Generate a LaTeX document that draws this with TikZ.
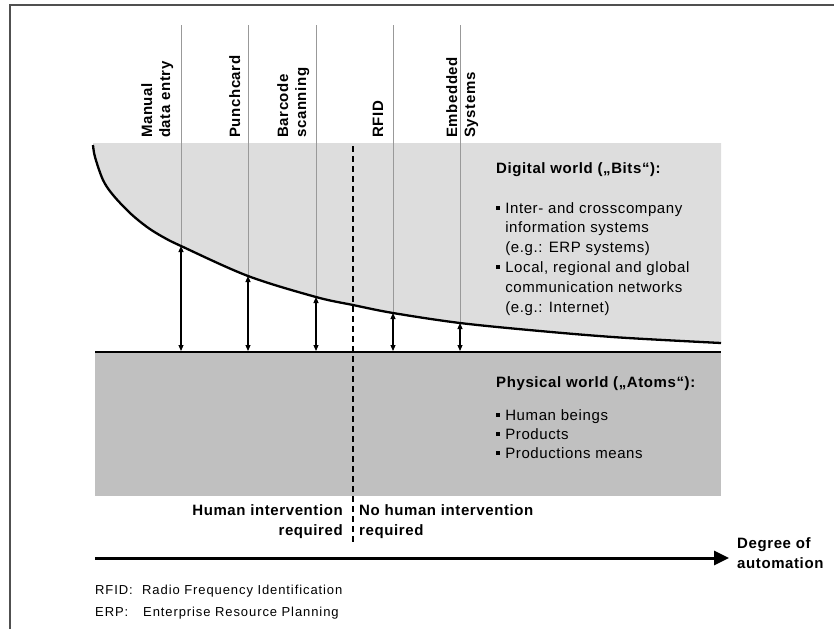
\documentclass[tikz,border=0pt]{standalone}
\usepackage{fontspec}
\setmainfont[LetterSpace=4]{Liberation Sans}
\newfontfamily\fnfont[LetterSpace=7]{Liberation Sans}
\usetikzlibrary{arrows.meta}
\definecolor{digital}{HTML}{DDDDDD}
\definecolor{physical}{HTML}{C0C0C0}
\definecolor{guidecol}{HTML}{999999}
\definecolor{framecol}{HTML}{505050}
\newcommand\sqbullet{\rule[3.4pt]{3.6pt}{3.6pt}}
\tikzset{
  vlabel/.style={inner sep=0pt, rotate=90, anchor=base west, font=\bfseries\fontsize{15pt}{18pt}\selectfont},
  titletext/.style={inner sep=0pt, anchor=base west, font=\bfseries\fontsize{15pt}{18pt}\selectfont},
  boldtwo/.style={inner sep=0pt, font=\bfseries\fontsize{15pt}{20pt}\selectfont},
  bodytext/.style={inner sep=0pt, anchor=base west, font=\fontsize{15pt}{#1}\selectfont},
  fntext/.style={inner sep=0pt, anchor=base west, font=\fnfont\fontsize{13pt}{16pt}\selectfont},
  guideline/.style={draw=guidecol, line width=0.8pt},
  dblarrow/.style={line width=1.1pt, {Triangle[length=6pt,width=5pt]}-{Triangle[length=6pt,width=5pt]}},
  borderline/.style={draw=framecol, line width=2pt},
}
\begin{document}
\begin{tikzpicture}[x=1pt,y=-1pt]
\useasboundingbox (0,0) rectangle (834,629);
% frame
\draw[borderline] (10,629) -- (10,5) -- (834,5);
% curve points
\coordinate (c1) at (181,246);
\coordinate (c2) at (248,276);
\coordinate (c3) at (316,297);
\coordinate (c4) at (393,313);
\coordinate (c5) at (460,323);
\def\curvepts{(93,145) (95,157) (103,180) (113,195) (130,213) (147,227) (163,237) (181,246) (248,276) (316,297) (353,305) (393,313) (460,323) (540,331) (620,337.5) (721,343)}
% regions
\fill[digital] plot[smooth, tension=0.55] coordinates {\curvepts} -- (721,143) -- (93,143) -- cycle;
\fill[physical] (95,352) rectangle (721,496);
% guide lines
\coordinate (t1) at (181,25);
\coordinate (t2) at (248,25);
\coordinate (t3) at (316,25);
\coordinate (t4) at (393,25);
\coordinate (t5) at (460,25);
\foreach \i in {1,...,5} \draw[guideline] (t\i) -- (c\i);
% curve
\draw[line width=2.3pt] plot[smooth, tension=0.55] coordinates {\curvepts};
% baseline
\coordinate (bl) at (95,352);
\coordinate (br) at (721,352);
\draw[line width=2.5pt] (bl) -- (br);
% arrows
\coordinate (b1) at (181,351);
\coordinate (b2) at (248,351);
\coordinate (b3) at (316,351);
\coordinate (b4) at (393,351);
\coordinate (b5) at (460,351);
\foreach \i in {1,...,5} \draw[dblarrow] (c\i) -- (b\i);
% dashed divider
\coordinate (dtop) at (353,146);
\coordinate (dbot) at (353,545);
\draw[line width=1.1pt, dash pattern=on 6pt off 4pt] (dtop) -- (dbot);
% axis
\coordinate (ax0) at (95,558);
\coordinate (ax1) at (729,558);
\draw[line width=3pt, -{Triangle[length=15pt,width=14pt]}] (ax0) -- (ax1);
% rotated labels
\node[vlabel] (manual) at (152,138) {\begin{tabular}[t]{@{}l@{}}Manual\\data entry\end{tabular}};
\node[vlabel] (punch) at (240,138) {\begin{tabular}[t]{@{}l@{}}Punchcard\end{tabular}};
\node[vlabel] (barcode) at (288,138) {\begin{tabular}[t]{@{}l@{}}Barcode\\scanning\end{tabular}};
\node[vlabel] (rfidl) at (383,138) {\begin{tabular}[t]{@{}l@{}}RFID\end{tabular}};
\node[vlabel] (embedded) at (457,138) {\begin{tabular}[t]{@{}l@{}}Embedded\\Systems\end{tabular}};
% digital world
\node[titletext] (dtitle) at (496,173) {Digital world („Bits“):};
\node[bodytext=19.8pt] (dlist) at (496,213) {\begin{tabular}[t]{@{}l@{\hspace{5.5pt}}l@{}}
\sqbullet & Inter- and crosscompany\\
 & information systems\\
 & (e.g.: ERP systems)\\
\sqbullet & Local, regional and global\\
 & communication networks\\
 & (e.g.: Internet)
\end{tabular}};
% physical world
\node[titletext] (ptitle) at (496,387) {Physical world („Atoms“):};
\node[bodytext=19pt] (plist) at (496,420) {\begin{tabular}[t]{@{}l@{\hspace{5.5pt}}l@{}}
\sqbullet & Human beings\\
\sqbullet & Products\\
\sqbullet & Productions means
\end{tabular}};
% intervention labels
\node[boldtwo, anchor=base east] (human) at (343,515) {\begin{tabular}[t]{@{}r@{}}Human intervention\\required\end{tabular}};
\node[boldtwo, anchor=base west] (nohuman) at (359,515) {\begin{tabular}[t]{@{}l@{}}No human intervention\\required\end{tabular}};
\node[boldtwo, anchor=base west] (degree) at (737,548) {\begin{tabular}[t]{@{}l@{}}Degree of\\automation\end{tabular}};
% footnotes
\node[fntext] (rfidabbr) at (95,594) {RFID:};
\node[fntext] (rfidtxt) at (142,594) {Radio Frequency Identification};
\node[fntext] (erpabbr) at (95,616) {ERP:};
\node[fntext] (erptxt) at (143,616) {Enterprise Resource Planning};
\end{tikzpicture}
\end{document}
